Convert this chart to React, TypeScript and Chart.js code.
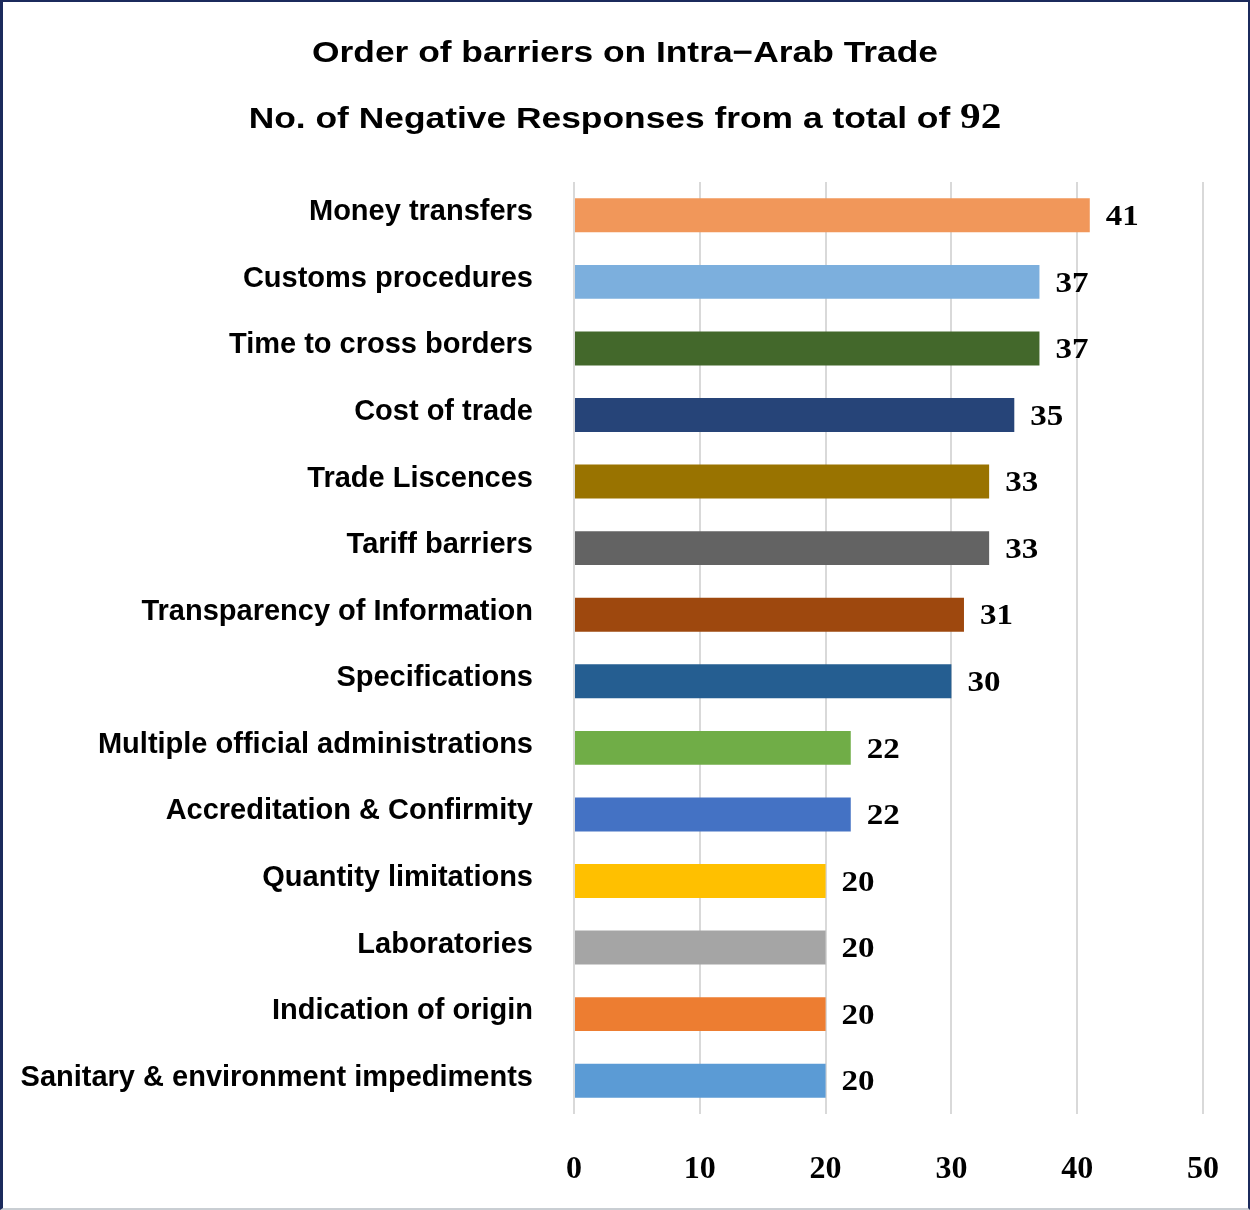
import React, { useEffect, useRef } from "react";
import { Chart, registerables } from "chart.js";

Chart.register(...registerables);

const categories = [
  "Money transfers",
  "Customs procedures",
  "Time to cross borders",
  "Cost of trade",
  "Trade Liscences",
  "Tariff barriers",
  "Transparency of Information",
  "Specifications",
  "Multiple official administrations",
  "Accreditation & Confirmity",
  "Quantity limitations",
  "Laboratories",
  "Indication of origin",
  "Sanitary & environment impediments",
];

const values = [41, 37, 37, 35, 33, 33, 31, 30, 22, 22, 20, 20, 20, 20];

const barColors = [
  "#F1975A",
  "#7CAFDD",
  "#43682B",
  "#264478",
  "#997300",
  "#636363",
  "#9E480E",
  "#255E91",
  "#70AD47",
  "#4472C4",
  "#FFC000",
  "#A5A5A5",
  "#ED7D31",
  "#5B9BD5",
];

const xMin = 0;
const xMax = 50;
const xStep = 10;

const titleLine1 = "Order of barriers on Intra\u2212Arab Trade";
const titleLine2 = "No. of Negative Responses from a total of ";
const titleNumber = "92";

const SANS = 'Arial, "Liberation Sans", sans-serif';
const SERIF = '"Times New Roman", "Liberation Serif", serif';

const titlePlugin = {
  id: "customTitle",
  afterDraw(chart: any) {
    const ctx = chart.ctx;
    const cx = chart.width / 2;
    ctx.save();
    ctx.fillStyle = "#000";
    ctx.textBaseline = "alphabetic";
    ctx.textAlign = "left";
    const f1 = `bold 30px ${SANS}`;
    const f2 = `bold 35px ${SERIF}`;
    ctx.font = f1;
    const m1 = ctx.measureText(titleLine1).width;
    const sx = 626 / m1;
    const w1 = m1 * sx;
    ctx.save();
    ctx.translate(cx - w1 / 2, 62);
    ctx.scale(sx, 1);
    ctx.fillText(titleLine1, 0, 0);
    ctx.restore();
    ctx.font = f1;
    const w2a = ctx.measureText(titleLine2).width;
    ctx.font = f2;
    const w2b = ctx.measureText(titleNumber).width;
    const w2 = (w2a + w2b) * sx;
    ctx.save();
    ctx.translate(cx - w2 / 2, 128);
    ctx.scale(sx, 1);
    ctx.font = f1;
    ctx.fillText(titleLine2, 0, 0);
    ctx.font = f2;
    ctx.fillText(titleNumber, w2a, 0);
    ctx.restore();
    ctx.restore();
  },
};

const valueLabelPlugin = {
  id: "valueLabels",
  afterDatasetsDraw(chart: any) {
    const ctx = chart.ctx;
    const meta = chart.getDatasetMeta(0);
    const data = chart.data.datasets[0].data;
    const sx = 1.1;
    ctx.save();
    ctx.fillStyle = "#000";
    ctx.font = `bold 30px ${SERIF}`;
    ctx.textAlign = "left";
    ctx.textBaseline = "middle";
    meta.data.forEach((el: any, i: number) => {
      ctx.save();
      ctx.translate(el.x + 16, el.y + 2);
      ctx.scale(sx, 1);
      ctx.fillText(String(data[i]), 0, 0);
      ctx.restore();
    });
    ctx.restore();
  },
};

export default function App() {
  const ref = useRef<HTMLCanvasElement | null>(null);

  useEffect(() => {
    if (!ref.current) return;
    const chart = new Chart(ref.current, {
      type: "bar",
      data: {
        labels: categories,
        datasets: [
          {
            data: values,
            backgroundColor: barColors,
            borderWidth: 0,
            categoryPercentage: 1,
            barPercentage: 0.51,
          },
        ],
      },
      options: {
        indexAxis: "y",
        responsive: false,
        animation: false,
        layout: { padding: { top: 182, right: 47, left: 0, bottom: 0 } },
        plugins: {
          legend: { display: false },
          title: { display: false },
          tooltip: { enabled: false },
        },
        scales: {
          x: {
            min: xMin,
            max: xMax,
            grid: {
              color: "#D9D9D9",
              lineWidth: 2,
              drawTicks: false,
              tickLength: 0,
            },
            border: { display: false },
            ticks: {
              stepSize: xStep,
              color: "#000",
              padding: 37,
              font: { family: SERIF, weight: "bold", size: 32 },
            },
            afterFit: (s: any) => {
              s.height = 96;
              s.paddingRight = 0;
              s.paddingLeft = 0;
            },
          },
          y: {
            grid: { display: false, drawTicks: false },
            border: { display: false },
            ticks: {
              autoSkip: false,
              color: "#000",
              padding: 41,
              labelOffset: -3,
              font: { family: SANS, weight: "bold", size: 29 },
            },
            afterFit: (s: any) => {
              s.width = 574;
            },
          },
        },
      },
      plugins: [titlePlugin, valueLabelPlugin],
    } as any);
    return () => chart.destroy();
  }, []);

  return (
    <>
      <canvas
        ref={ref}
        width={1250}
        height={1210}
        style={{ position: "absolute", left: 0, top: 0, width: 1250, height: 1210, background: "#fff" }}
      />
      <div
        style={{
          position: "absolute",
          left: 0,
          top: 0,
          width: 1250,
          height: 1210,
          boxSizing: "border-box",
          borderLeft: "3px solid #1B2A5C",
          borderTop: "2px solid #1B2A5C",
          borderRight: "2px solid #1B2A5C",
          borderBottom: "2px solid #C9CED3",
          pointerEvents: "none",
        }}
      />
    </>
  );
}
